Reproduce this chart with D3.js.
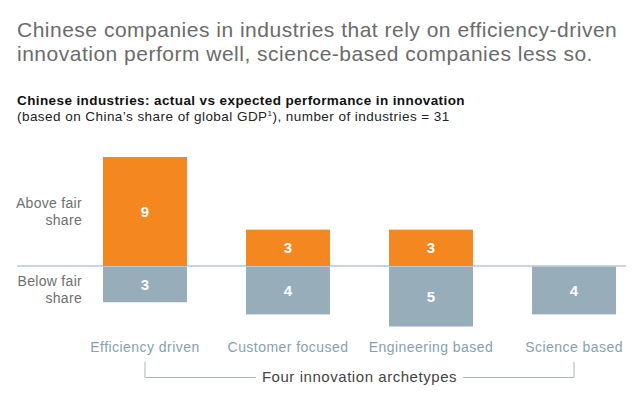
<!DOCTYPE html>
<html><head><meta charset="utf-8">
<script src="https://cdn.jsdelivr.net/npm/d3@7"></script>
<style>
html,body{margin:0;padding:0;background:#fff;}
svg{display:block;font-family:"Liberation Sans",Arial,Helvetica,sans-serif;}
</style></head>
<body><svg id="c" width="640" height="407"></svg>
<script>
const categories = ["Efficiency driven","Customer focused","Engineering based","Science based"];
const aboveValues = [9,3,3,0];
const belowValues = [3,4,5,4];
const titleLines = ["Chinese companies in industries that rely on efficiency-driven","innovation perform well, science-based companies less so."];
const subtitleBold = "Chinese industries: actual vs expected performance in innovation";
const subtitleText = "(based on China\u2019s share of global GDP";
const subtitleText2 = "), number of industries = 31";
const rowLabels = [["Above fair","share"],["Below fair","share"]];
const groupLabel = "Four innovation archetypes";

const svg = d3.select("#c");
const x = d3.scaleBand().domain(categories).range([103,616]).paddingInner(0.413).paddingOuter(0);
const y = d3.scaleLinear().domain([-5,9]).range([326.5,157]);
const orange = "#F4871F", blue = "#97ADBA";

// title
svg.append("g").selectAll("text").data(titleLines).join("text")
  .attr("x",17).attr("y",(d,i)=>37+i*24)
  .attr("font-size",21).attr("letter-spacing",0.5).attr("fill","#6b6b6b").text(d=>d);

svg.append("text").attr("x",17).attr("y",105).attr("font-size",13.5).attr("letter-spacing",0.4)
  .attr("font-weight","bold").attr("fill","#111").text(subtitleBold);
const st = svg.append("text").attr("x",17).attr("y",121).attr("font-size",13.5).attr("letter-spacing",0.45).attr("fill","#222");
st.append("tspan").text(subtitleText);
st.append("tspan").attr("font-size",8).attr("dy",-5).text("1");
st.append("tspan").attr("dy",5).text(subtitleText2);

// baseline
svg.append("line").attr("x1",17).attr("x2",626).attr("y1",y(0)).attr("y2",y(0))
  .attr("stroke","#b7c6cf").attr("stroke-width",1.5);

// bars
const gA = svg.append("g");
categories.forEach((c,i)=>{
  if(aboveValues[i]>0){
    gA.append("rect").attr("x",x(c)).attr("width",x.bandwidth())
      .attr("y",y(aboveValues[i])).attr("height",y(0)-y(aboveValues[i])).attr("fill",orange);
    gA.append("text").attr("x",x(c)+x.bandwidth()/2).attr("y",(y(aboveValues[i])+y(0))/2)
      .attr("dy","0.36em").attr("text-anchor","middle").attr("fill","#fff")
      .attr("font-size",15).attr("font-weight","bold").text(aboveValues[i]);
  }
  if(belowValues[i]>0){
    gA.append("rect").attr("x",x(c)).attr("width",x.bandwidth())
      .attr("y",y(0)+0.75).attr("height",y(-belowValues[i])-y(0)-0.75).attr("fill",blue);
    gA.append("text").attr("x",x(c)+x.bandwidth()/2).attr("y",(y(-belowValues[i])+y(0))/2)
      .attr("dy","0.36em").attr("text-anchor","middle").attr("fill","#fff")
      .attr("font-size",15).attr("font-weight","bold").text(belowValues[i]);
  }
});

// row labels
rowLabels.forEach((lines,k)=>{
  lines.forEach((t,j)=>{
    svg.append("text").attr("x",82).attr("y",(k===0?208:286)+j*16.5)
      .attr("text-anchor","end").attr("font-size",14).attr("letter-spacing",0.3)
      .attr("fill","#707070").text(t);
  });
});

// category labels
svg.append("g").selectAll("text").data(categories).join("text")
  .attr("x",(d,i)=>x(d)+x.bandwidth()/2).attr("y",352)
  .attr("text-anchor","middle").attr("font-size",14).attr("letter-spacing",0.45)
  .attr("fill","#8aa0b0").text(d=>d);

// bracket
const xl = x(categories[0])+x.bandwidth()/2, xr = x(categories[3])+x.bandwidth()/2;
const mid = (xl+xr)/2;
const gt = svg.append("text").attr("x",mid).attr("y",382).attr("text-anchor","middle")
  .attr("font-size",15).attr("letter-spacing",0.55).attr("fill","#444").text(groupLabel);
const tw = gt.node().getComputedTextLength();
const br = d3.path();
br.moveTo(xl,362); br.lineTo(xl,377.5); br.lineTo(mid-tw/2-6,377.5);
br.moveTo(mid+tw/2+6,377.5); br.lineTo(xr,377.5); br.lineTo(xr,362);
svg.append("path").attr("d",br.toString()).attr("fill","none").attr("stroke","#a8b6c0").attr("stroke-width",1);
</script></body></html>
